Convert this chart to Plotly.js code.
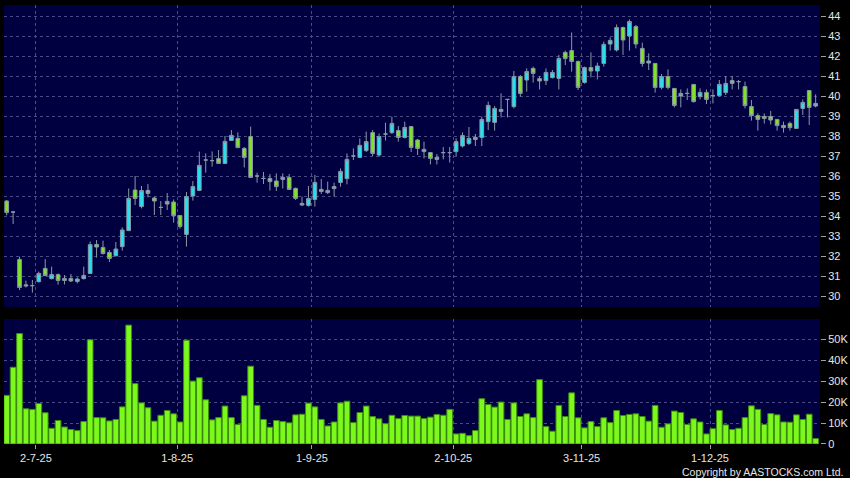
<!DOCTYPE html>
<html><head><meta charset="utf-8">
<script src="https://cdn.plot.ly/plotly-3.0.1.min.js"></script>
<style>html,body{margin:0;padding:0;background:#000;}#chart{width:850px;height:478px;}</style>
</head><body><div id="chart"></div>
<script>
const dates = [
"2025-06-25","2025-06-26","2025-06-27","2025-06-30",
"2025-07-02","2025-07-03","2025-07-04","2025-07-07","2025-07-08","2025-07-09","2025-07-10","2025-07-11","2025-07-14","2025-07-15","2025-07-16","2025-07-17","2025-07-18","2025-07-21","2025-07-22","2025-07-23","2025-07-24","2025-07-25","2025-07-28","2025-07-29","2025-07-30","2025-07-31",
"2025-08-01","2025-08-04","2025-08-05","2025-08-06","2025-08-07","2025-08-08","2025-08-11","2025-08-12","2025-08-13","2025-08-14","2025-08-15","2025-08-18","2025-08-19","2025-08-20","2025-08-21","2025-08-22","2025-08-25","2025-08-26","2025-08-27","2025-08-28","2025-08-29",
"2025-09-01","2025-09-02","2025-09-03","2025-09-04","2025-09-05","2025-09-08","2025-09-09","2025-09-10","2025-09-11","2025-09-12","2025-09-15","2025-09-16","2025-09-17","2025-09-18","2025-09-19","2025-09-22","2025-09-23","2025-09-24","2025-09-25","2025-09-26","2025-09-29","2025-09-30",
"2025-10-02","2025-10-03","2025-10-06","2025-10-08","2025-10-09","2025-10-10","2025-10-13","2025-10-14","2025-10-15","2025-10-16","2025-10-17","2025-10-20","2025-10-21","2025-10-22","2025-10-23","2025-10-24","2025-10-27","2025-10-28","2025-10-30","2025-10-31",
"2025-11-03","2025-11-04","2025-11-05","2025-11-06","2025-11-07","2025-11-10","2025-11-11","2025-11-12","2025-11-13","2025-11-14","2025-11-17","2025-11-18","2025-11-19","2025-11-20","2025-11-21","2025-11-24","2025-11-25","2025-11-26","2025-11-27","2025-11-28",
"2025-12-01","2025-12-02","2025-12-03","2025-12-04","2025-12-05","2025-12-08","2025-12-09","2025-12-10","2025-12-11","2025-12-12","2025-12-15","2025-12-16","2025-12-17","2025-12-18","2025-12-19","2025-12-22","2025-12-23","2025-12-24"
];
const openP = [
34.75,34.2,31.83,30.5,30.52,30.72,31.38,30.87,31.07,30.78,
30.88,30.73,30.87,31.13,32.58,32.43,32.18,32.02,32.47,33.27,
35.3,34.47,35.28,34.9,34.43,34.6,34.7,34.02,33.08,35.0,
35.28,36.8,36.77,36.87,36.63,37.78,37.88,37.38,37.97,36.0,
35.88,35.88,35.75,35.83,35.93,35.38,34.63,34.53,34.83,35.33,
35.28,35.37,35.68,35.87,37.0,36.93,37.27,38.17,37.05,38.1,
38.17,38.27,37.93,38.47,37.8,37.33,37.17,36.83,37.17,37.17,
37.22,37.5,37.63,37.93,37.93,38.72,38.68,39.23,39.83,39.47,
40.97,40.8,41.38,40.87,40.77,40.92,40.88,42.18,42.27,41.73,
40.68,41.42,41.25,41.63,42.6,42.3,43.42,43.0,43.47,42.38,
41.65,41.63,40.43,40.97,40.38,40.0,40.13,40.58,39.97,40.18,
40.02,40.02,40.17,40.77,40.72,40.47,39.47,39.02,38.98,38.97,
38.83,38.53,38.63,38.38,39.38,40.27,39.5];
const highP = [
34.8,34.22,31.97,30.77,30.8,31.22,31.85,31.47,31.13,31.05,
31.1,30.93,31.47,32.73,32.8,32.77,32.3,32.7,33.43,35.38,
36.0,35.5,35.6,34.97,34.75,35.15,34.83,34.05,35.2,35.75,
37.22,37.13,37.23,37.3,38.0,38.3,38.18,37.45,38.47,36.17,
36.2,36.1,36.13,36.13,36.1,35.42,34.97,35.5,36.05,35.85,
35.72,35.67,36.38,37.13,37.38,37.88,38.22,38.3,38.13,38.67,
38.97,38.5,38.72,38.5,37.85,37.72,37.2,37.1,37.45,37.45,
37.88,38.18,38.45,38.1,38.97,39.72,39.5,40.13,39.85,41.25,
41.05,41.38,41.47,41.0,41.38,41.3,42.05,42.27,43.18,41.77,
41.47,42.18,41.67,42.72,42.93,43.58,43.47,43.83,43.55,42.67,
42.13,41.65,41.1,41.33,40.4,40.33,40.38,40.58,40.38,40.33,
40.33,40.8,41.0,41.0,40.8,40.72,39.8,39.13,39.13,39.25,
38.85,38.72,38.72,39.35,39.83,40.3,40.08];
const lowP = [
34.03,33.6,30.3,30.43,30.17,30.67,31.0,30.83,30.57,30.58,
30.7,30.63,30.83,31.1,31.92,32.07,31.7,31.97,32.27,33.25,
34.55,34.38,34.93,34.05,34.05,34.3,33.67,33.37,32.47,34.77,
35.25,36.17,36.47,36.6,36.6,37.75,37.4,36.43,35.9,35.67,
35.6,35.27,35.25,35.38,35.3,34.8,34.5,34.47,34.47,35.1,
35.1,34.97,35.47,35.58,36.8,36.9,37.2,37.0,36.97,37.77,
38.1,37.72,37.88,37.2,37.05,36.88,36.58,36.58,36.83,36.67,
37.0,37.43,37.55,37.5,37.5,38.3,38.27,38.93,38.93,39.38,
39.97,40.22,40.67,40.33,40.55,40.88,40.33,41.55,41.22,40.3,
40.62,40.93,40.83,41.47,42.27,42.22,42.05,42.27,42.38,41.47,
41.3,40.17,40.33,40.33,39.43,39.43,39.8,39.67,39.83,39.6,
39.63,39.97,40.05,40.33,40.33,39.38,38.77,38.27,38.62,38.58,
38.27,38.17,38.27,38.35,39.05,38.55,39.43];
const closeP = [
34.17,34.2,30.43,30.55,30.52,31.13,31.02,31.08,30.78,30.88,
30.75,30.85,31.03,32.57,32.45,32.13,31.88,32.35,33.3,34.88,
34.88,35.27,35.13,34.75,34.43,34.73,34.02,33.47,34.97,35.47,
36.53,36.8,36.77,36.63,37.73,38.03,37.42,36.93,35.93,36.0,
35.88,35.72,35.47,35.93,35.33,34.88,34.55,34.87,35.68,35.23,
35.17,35.47,36.23,36.83,37.0,37.53,37.72,37.13,37.97,38.1,
38.63,37.93,38.43,37.43,37.38,37.22,36.88,36.93,37.17,37.17,
37.72,38.02,37.88,37.83,38.83,39.53,39.38,39.33,39.83,40.97,
40.13,41.22,41.13,40.75,41.18,41.18,41.88,41.88,41.73,40.43,
41.42,41.25,41.5,42.58,42.78,43.42,42.8,43.72,42.6,41.63,
41.75,40.43,40.97,40.43,39.53,40.13,40.13,39.72,40.18,39.83,
40.02,40.58,40.63,40.63,40.72,39.52,39.02,38.83,38.88,38.8,
38.52,38.42,38.42,39.33,39.68,39.43,39.63];
const volumeK = [
23.2,36.6,52.7,16.8,16.5,19.3,14.9,7.5,11.2,8.1,
6.9,6.4,10.7,49.7,12.6,12.5,11.0,11.7,17.7,56.7,
28.8,19.6,17.3,10.9,13.7,16.0,14.4,10.5,49.5,30.0,
31.6,21.1,11.5,12.6,18.1,12.6,9.3,23.0,37.1,18.4,
11.7,8.0,11.2,10.7,10.1,13.9,14.2,19.5,17.7,11.7,
8.6,10.5,19.6,20.4,10.2,15.0,18.1,13.1,12.0,9.7,
13.7,12.1,13.6,13.3,13.3,12.1,12.8,14.1,13.7,16.5,
4.8,5.1,4.0,6.4,21.6,18.8,17.6,20.0,11.7,19.6,
13.1,14.4,12.6,30.7,8.3,6.1,18.4,13.1,24.4,12.5,
7.7,10.7,8.3,12.5,10.2,16.0,13.6,14.1,14.4,13.1,
10.9,18.4,8.0,9.6,15.7,15.0,9.3,12.0,10.5,4.8,
7.3,16.0,9.1,6.9,7.5,12.6,18.2,16.5,9.3,14.5,
13.9,10.5,10.4,13.9,11.7,14.2,2.6];
const priceTicks = [30,31,32,33,34,35,36,37,38,39,40,41,42,43,44];
const volTicks = [0,10,20,30,40,50];
const volTickText = ["0","10K","20K","30K","40K","50K"];
const tickDates = ["2025-07-02","2025-08-01","2025-09-01","2025-10-02","2025-11-03","2025-12-01"];
const tickLabels = ["2-7-25","1-8-25","1-9-25","2-10-25","3-11-25","1-12-25"];

const idx = dates.map((d, i) => i);
const tickPos = tickDates.map(d => dates.indexOf(d) + 0.55);
const FONT = "Liberation Sans, Arial, sans-serif";
const GRID = "#4a4a84";
const DASH = "3px,3px";
const xr = [-0.42, dates.length - 1 + 0.68];

const candle = {
  type: "candlestick", x: idx, open: openP, high: highP, low: lowP, close: closeP,
  text: dates, xaxis: "x", yaxis: "y", whiskerwidth: 0,
  increasing: {fillcolor: "#22e2f2", line: {color: "#8a98a6", width: 1}},
  decreasing: {fillcolor: "#7ee620", line: {color: "#8a98a6", width: 1}},
  hoverinfo: "text+y"
};
const vol = {
  type: "bar", x: idx, y: volumeK, xaxis: "x2", yaxis: "y2",
  marker: {color: "#7cf81c", line: {color: "#3c8c10", width: 1}},
  hoverinfo: "y"
};
const axFont = {family: FONT, size: 11, color: "#e6e6e6"};
const layout = {
  width: 850, height: 478,
  paper_bgcolor: "#000000", plot_bgcolor: "#000040",
  margin: {l: 4, r: 30, t: 5, b: 34},
  showlegend: false, boxgap: 0.18, bargap: 0.11,
  font: {family: FONT, color: "#e6e6e6"},
  xaxis: {domain: [0, 1], anchor: "y", range: xr, tickvals: tickPos, showticklabels: false,
    ticks: "", showgrid: true, gridcolor: GRID, griddash: DASH, gridwidth: 1,
    zeroline: false, showline: false, rangeslider: {visible: false}, fixedrange: true},
  xaxis2: {domain: [0, 1], anchor: "y2", range: xr, tickvals: tickPos, ticktext: tickLabels,
    ticks: "outside", ticklen: 4, tickcolor: "#a0a0a0", tickfont: axFont,
    showgrid: true, gridcolor: GRID, griddash: DASH, gridwidth: 1,
    zeroline: false, showline: false, fixedrange: true},
  yaxis: {domain: [0.312, 1], anchor: "x", side: "right", range: [29.45, 44.55],
    tickvals: priceTicks, ticks: "outside", ticklen: 5, tickcolor: "#a0a0a0", tickfont: axFont,
    showgrid: true, gridcolor: GRID, griddash: DASH, gridwidth: 1,
    zeroline: false, showline: false, fixedrange: true},
  yaxis2: {domain: [0, 0.2847], anchor: "x2", side: "right", range: [0, 59.6],
    tickvals: volTicks, ticktext: volTickText, ticks: "outside", ticklen: 5, tickcolor: "#a0a0a0",
    tickfont: axFont, showgrid: true, gridcolor: GRID, griddash: DASH, gridwidth: 1,
    zeroline: false, showline: false, fixedrange: true},
  annotations: [{
    text: "Copyright by AASTOCKS.com Ltd.", xref: "paper", yref: "paper",
    x: 1.0306, y: -0.0638, xanchor: "right", yanchor: "middle", showarrow: false,
    font: {family: FONT, size: 10.5, color: "#e6e6e6"}
  }]
};
Plotly.newPlot("chart", [candle, vol], layout, {displayModeBar: false, staticPlot: true});
</script></body></html>
